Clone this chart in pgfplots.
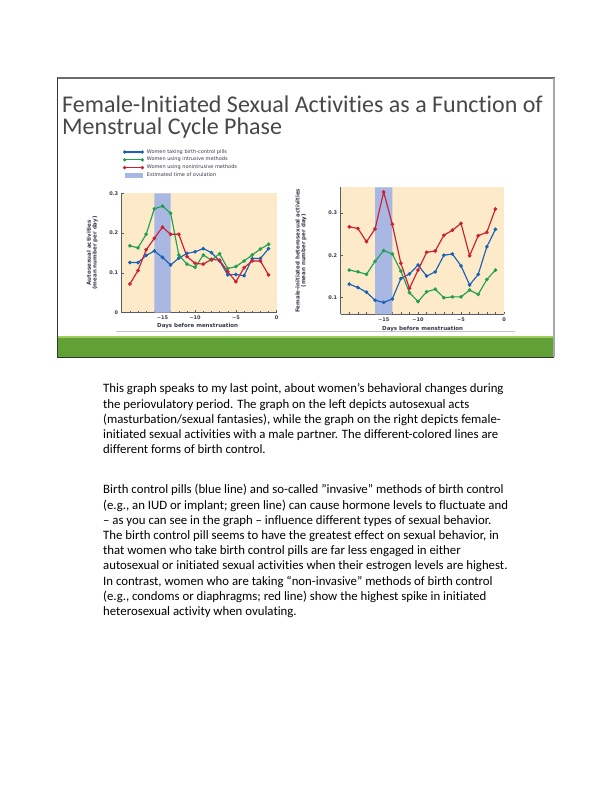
\documentclass[border=0pt]{standalone}
\usepackage{fontspec}
\setmainfont{Carlito}[Ligatures={NoCommon}]
\newfontfamily\chartfont{DejaVu Sans}
\usepackage{pgfplots}
\pgfplotsset{compat=1.18}
\definecolor{beige}{RGB}{252,234,201}
\definecolor{band}{RGB}{168,184,226}
\definecolor{blueL}{RGB}{28,98,180}
\definecolor{greenL}{RGB}{34,160,82}
\definecolor{redL}{RGB}{204,30,52}
\definecolor{axisgray}{RGB}{90,90,100}
\definecolor{ticktext}{RGB}{55,57,75}
\definecolor{titlegray}{RGB}{72,72,72}
\definecolor{slidegreen}{RGB}{96,160,52}
\definecolor{slidegreenlt}{RGB}{160,206,92}
\pgfplotsset{
  slide/.style={
    scale only axis, xmin=-19, xmax=0,
    axis x line*=bottom, axis y line*=left,
    axis background/.style={fill=beige},
    axis line style={draw=axisgray, line width=0.6pt},
    tick align=inside, major tick length=2.5pt, minor tick length=2pt,
    tick style={draw=axisgray, line width=0.5pt},
    xtick={-14,-10,-5,0}, xticklabels={−15,−10,−5,0},
    minor xtick={-18,-17,-16,-15,-13,-12,-11,-9,-8,-7,-6,-4,-3,-2,-1},
    ticklabel style={font=\chartfont\bfseries\fontsize{5}{6}\selectfont, text=ticktext},
    label style={font=\chartfont\bfseries\fontsize{5.5}{5.9}\selectfont, text=ticktext, align=center},
    xlabel={Days before menstruation},
  },
  ser/.style={line width=1.15pt, mark=*, mark size=1.2pt, mark options={solid}},
  endml/.style={legend image code/.code={\draw[##1] plot coordinates {(0cm,0cm) (0.62cm,0cm)};}},
  bandl/.style={legend image code/.code={\fill[band] (0cm,-0.08cm) rectangle (0.62cm,0.08cm);}},
}
\begin{document}
\begin{tikzpicture}[x=1pt,y=1pt]
\path[fill=white,use as bounding box] (0,0) rectangle (612,792);
% slide frame
\fill[slidegreen] (57,435) rectangle (553.5,453.7);
\fill[slidegreenlt] (57,453.7) rectangle (553.5,456);
\draw[gray!85!black, line width=1.6pt] (57,714) -- (554.5,714);
\draw[black!80, line width=0.7pt] (57,714) -- (57,434.7);
\draw[black!80, line width=0.9pt] (57,434.7) -- (553.5,434.7);
\draw[gray!70, line width=1.6pt] (554,714) -- (554,434.5);
\draw[gray!45, line width=0.7pt] (116,461) -- (515,461);
% title
\node[anchor=base west, inner sep=0, text=titlegray, font=\fontsize{24}{26}\selectfont] at (62,679.7) {Female-Initiated Sexual Activities as a Function of};
\node[anchor=base west, inner sep=0, text=titlegray, font=\fontsize{24}{26}\selectfont] at (62,657.7) {Menstrual Cycle Phase};

% left chart
\begin{axis}[slide, at={(121.7pt,479.3pt)}, anchor=south west,
  width=155pt, height=119.4pt, ymin=0, ymax=0.3,
  ytick={0,0.1,0.2,0.3}, yticklabels={0,0.1,0.2,0.3},
  ylabel={Autosexual activities\\(mean number per day)},
  ylabel style={at={(axis description cs:-0.19,0.5)}, anchor=center},
  xlabel style={at={(axis description cs:0.49,-0.11)}, anchor=center},
  legend style={at={(axis description cs:-0.008,1.39)}, anchor=north west, draw=none, fill=none,
    font=\chartfont\fontsize{5}{6}\selectfont, nodes={inner sep=0.45pt, text=ticktext}, row sep=1.6pt,
    /tikz/every odd column/.append style={column sep=3pt}},
  legend cell align=left]
\addlegendimage{blueL, line width=1.15pt, mark=*, mark size=1.05pt, endml}
\addlegendentry{Women taking birth-control pills}
\addlegendimage{greenL, line width=1.15pt, mark=*, mark size=1.05pt, endml}
\addlegendentry{Women using intrusive methods}
\addlegendimage{redL, line width=1.15pt, mark=*, mark size=1.05pt, endml}
\addlegendentry{Women using nonintrusive methods}
\addlegendimage{bandl}
\addlegendentry{Estimated time of ovulation}
\addplot[fill=band, draw=none, forget plot] coordinates {(-15,0) (-15,0.3) (-13,0.3) (-13,0)} \closedcycle;
\addplot[ser, blueL, forget plot] coordinates {(-18,0.126)(-17,0.126)(-16,0.144)(-15,0.155)(-14,0.139)(-13,0.120)(-12,0.137)(-11,0.149)(-10,0.153)(-9,0.161)(-8,0.151)(-7,0.130)(-6,0.095)(-5,0.096)(-4,0.093)(-3,0.136)(-2,0.136)(-1,0.161)};
\addplot[ser, greenL, forget plot] coordinates {(-18,0.168)(-17,0.163)(-16,0.197)(-15,0.261)(-14,0.268)(-13,0.250)(-12,0.145)(-11,0.122)(-10,0.114)(-9,0.145)(-8,0.132)(-7,0.148)(-6,0.111)(-5,0.116)(-4,0.130)(-3,0.145)(-2,0.160)(-1,0.172)};
\addplot[ser, redL, forget plot] coordinates {(-18,0.072)(-17,0.106)(-16,0.158)(-15,0.187)(-14,0.215)(-13,0.197)(-12,0.197)(-11,0.141)(-10,0.124)(-9,0.122)(-8,0.134)(-7,0.132)(-6,0.103)(-5,0.078)(-4,0.113)(-3,0.130)(-2,0.130)(-1,0.095)};
\end{axis}

% right chart
\begin{axis}[slide, at={(340.7pt,477.7pt)}, anchor=south west,
  width=163.3pt, height=127pt, ymin=0.061, ymax=0.36,
  ytick={0.1,0.2,0.3}, yticklabels={0.1,0.2,0.3},
  ylabel={Female-initiated heterosexual activities\\(mean number per day)},
  ylabel style={at={(axis description cs:-0.243,0.5)}, anchor=center},
  xlabel style={at={(axis description cs:0.502,-0.118)}, anchor=center}]
\addplot[fill=band, draw=none] coordinates {(-15,0.061) (-15,0.36) (-13,0.36) (-13,0.061)} \closedcycle;
\addplot[ser, blueL] coordinates {(-18,0.132)(-17,0.124)(-16,0.113)(-15,0.094)(-14,0.089)(-13,0.097)(-12,0.145)(-11,0.156)(-10,0.177)(-9,0.151)(-8,0.161)(-7,0.200)(-6,0.203)(-5,0.175)(-4,0.130)(-3,0.155)(-2,0.220)(-1,0.261)};
\addplot[ser, greenL] coordinates {(-18,0.165)(-17,0.161)(-16,0.155)(-15,0.186)(-14,0.211)(-13,0.203)(-12,0.163)(-11,0.112)(-10,0.091)(-9,0.114)(-8,0.120)(-7,0.100)(-6,0.102)(-5,0.102)(-4,0.118)(-3,0.108)(-2,0.143)(-1,0.165)};
\addplot[ser, redL] coordinates {(-18,0.267)(-17,0.263)(-16,0.232)(-15,0.262)(-14,0.349)(-13,0.273)(-12,0.181)(-11,0.122)(-10,0.165)(-9,0.207)(-8,0.210)(-7,0.247)(-6,0.259)(-5,0.275)(-4,0.199)(-3,0.246)(-2,0.254)(-1,0.309)};
\end{axis}

% body text
\begin{scope}[every node/.style={anchor=base west, inner sep=0, font=\fontsize{12.8}{15}\selectfont}]
\node at (103,399.0) {This graph speaks to my last point, about women’s behavioral changes during};
\node at (103,383.8) {the periovulatory period. The graph on the left depicts autosexual acts};
\node at (103,368.6) {(masturbation/sexual fantasies), while the graph on the right depicts female-};
\node at (103,353.4) {initiated sexual activities with a male partner. The different-colored lines are};
\node at (103,338.2) {different forms of birth control.};
\node at (103,298.0) {Birth control pills (blue line) and so-called ”invasive” methods of birth control};
\node at (103,282.8) {(e.g., an IUD or implant; green line) can cause hormone levels to fluctuate and};
\node at (103,267.6) {– as you can see in the graph – influence different types of sexual behavior.};
\node at (103,252.4) {The birth control pill seems to have the greatest effect on sexual behavior, in};
\node at (103,237.2) {that women who take birth control pills are far less engaged in either};
\node at (103,222.0) {autosexual or initiated sexual activities when their estrogen levels are highest.};
\node at (103,206.8) {In contrast, women who are taking “non-invasive” methods of birth control};
\node at (103,191.6) {(e.g., condoms or diaphragms; red line) show the highest spike in initiated};
\node at (103,176.4) {heterosexual activity when ovulating.};
\end{scope}
\end{tikzpicture}
\end{document}
